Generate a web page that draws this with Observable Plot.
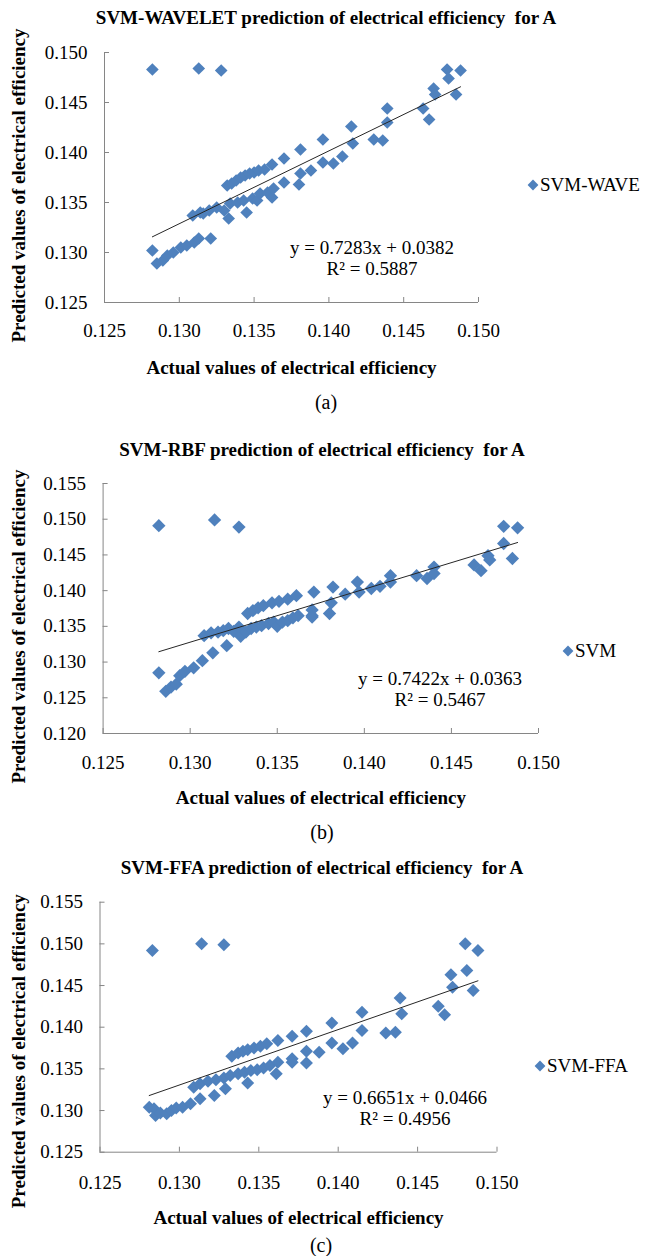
<!DOCTYPE html>
<html><head><meta charset="utf-8">
<script src="https://cdn.jsdelivr.net/npm/d3@7"></script>
<script src="https://cdn.jsdelivr.net/npm/@observablehq/plot@0.6"></script>
<style>
html,body{margin:0;padding:0;background:#fff;}
#root{position:relative;width:649px;height:1256px;overflow:hidden;background:#fff;font-family:"Liberation Serif","Times New Roman",serif;color:#000;}
.t{position:absolute;white-space:pre;font-size:19px;line-height:22px;transform:translate(-50%,-50%);}
.b{font-weight:bold;}
.leg{position:absolute;white-space:pre;font-size:19px;line-height:22px;transform:translateY(-50%);display:flex;align-items:center;}
</style></head><body><div id="root"></div>
<script>
// ---------- data ----------
const xTicks = [0.125, 0.130, 0.135, 0.140, 0.145, 0.150];
const yTicksA = [0.125, 0.130, 0.135, 0.140, 0.145, 0.150];
const yTicksB = [0.120, 0.125, 0.130, 0.135, 0.140, 0.145, 0.150, 0.155];
const yTicksC = [0.125, 0.130, 0.135, 0.140, 0.145, 0.150, 0.155];

const titles = [
  "SVM-WAVELET prediction of electrical efficiency  for A",
  "SVM-RBF prediction of electrical efficiency  for A",
  "SVM-FFA prediction of electrical efficiency  for A"
];
const seriesNames = ["SVM-WAVE", "SVM", "SVM-FFA"];
const captions = ["(a)", "(b)", "(c)"];
const xLabel = "Actual values of electrical efficiency";
const yLabel = "Predicted values of electrical efficiency";
const slopes = [0.7283, 0.7422, 0.6651];
const intercepts = [0.0382, 0.0363, 0.0466];
const rSquared = ["0.5887", "0.5467", "0.4956"];

const aActual = [0.1282,0.1313,0.1328,
  0.1282,0.1285,0.1289,0.1292,0.1296,0.1301,0.1305,0.1310,0.1313,0.1321,
  0.1309,0.1314,0.1316,0.1320,0.1325,0.1330,0.1333,0.1334,0.1339,0.1343,0.1345,0.1349,0.1352,0.1354,0.1359,0.1362,0.1363,0.1370,
  0.1332,0.1335,0.1338,0.1341,0.1344,0.1347,0.1350,0.1353,0.1357,0.1362,
  0.1370,0.1380,0.1381,0.1381,0.1388,0.1396,0.1396,0.1403,0.1409,0.1415,0.1416,0.1430,0.1436,0.1439,0.1439,0.1463,0.1467,0.1470,0.1471,0.1479,0.1480,0.1485,0.1488];
const aPredicted = [0.1483,0.1484,0.1482,
  0.1302,0.1289,0.1292,0.1297,0.1300,0.1305,0.1307,0.1310,0.1314,0.1314,
  0.1337,0.1340,0.1339,0.1342,0.1345,0.1342,0.1334,0.1349,0.1350,0.1352,0.1340,0.1354,0.1352,0.1359,0.1360,0.1355,0.1364,0.1370,
  0.1367,0.1369,0.1372,0.1375,0.1377,0.1379,0.1380,0.1382,0.1383,0.1388,
  0.1394,0.1368,0.1379,0.1403,0.1382,0.1413,0.1390,0.1389,0.1396,0.1426,0.1409,0.1413,0.1412,0.1444,0.1430,0.1444,0.1433,0.1464,0.1458,0.1483,0.1474,0.1458,0.1482];

const bActual = [0.1282,0.1314,0.1328,
  0.1282,0.1286,0.1289,0.1292,0.1294,0.1297,0.1302,0.1307,0.1313,0.1321,
  0.1308,0.1312,0.1316,0.1319,0.1322,0.1325,0.1328,0.1329,0.1332,0.1335,0.1338,0.1341,0.1345,0.1348,0.1350,0.1353,0.1356,0.1359,0.1362,0.1370,0.1370,0.1370,0.1380,0.1381,
  0.1333,0.1336,0.1339,0.1342,0.1347,0.1351,0.1356,0.1361,0.1371,0.1382,
  0.1389,0.1396,0.1397,0.1404,0.1409,0.1415,0.1415,0.1430,0.1436,0.1440,0.1440,0.1463,0.1467,0.1471,0.1472,0.1480,0.1480,0.1485,0.1488];
const bPredicted = [0.1491,0.1499,0.1489,
  0.1285,0.1259,0.1265,0.1269,0.1281,0.1287,0.1292,0.1302,0.1313,0.1323,
  0.1337,0.1341,0.1342,0.1344,0.1347,0.1343,0.1349,0.1336,0.1342,0.1347,0.1349,0.1351,0.1354,0.1356,0.1350,0.1356,0.1358,0.1362,0.1365,0.1365,0.1373,0.1363,0.1368,0.1383,
  0.1368,0.1372,0.1376,0.1379,0.1383,0.1385,0.1388,0.1393,0.1398,0.1405,
  0.1395,0.1412,0.1398,0.1403,0.1406,0.1421,0.1412,0.1421,0.1417,0.1433,0.1424,0.1436,0.1428,0.1449,0.1443,0.1490,0.1466,0.1445,0.1488];

const cActual = [0.1283,0.1314,0.1328,
  0.1281,0.1284,0.1285,0.1288,0.1292,0.1295,0.1298,0.1302,0.1307,0.1313,0.1322,0.1329,0.1343,
  0.1309,0.1313,0.1318,0.1323,0.1328,0.1332,0.1337,0.1341,0.1345,0.1349,0.1353,0.1357,0.1361,0.1362,
  0.1333,0.1337,0.1340,0.1343,0.1347,0.1351,0.1355,0.1362,
  0.1371,0.1371,0.1371,0.1380,0.1380,0.1380,0.1388,0.1396,0.1396,0.1403,0.1409,0.1415,0.1415,0.1430,0.1436,0.1439,0.1440,0.1463,0.1467,0.1471,0.1472,0.1480,0.1481,0.1485,0.1488];
const cPredicted = [0.1492,0.1500,0.1499,
  0.1304,0.1302,0.1294,0.1297,0.1296,0.1300,0.1303,0.1304,0.1308,0.1314,0.1318,0.1326,0.1333,
  0.1328,0.1332,0.1335,0.1337,0.1339,0.1342,0.1344,0.1346,0.1348,0.1349,0.1351,0.1354,0.1344,0.1358,
  0.1365,0.1369,0.1371,0.1373,0.1375,0.1377,0.1380,0.1384,
  0.1389,0.1362,0.1358,0.1395,0.1371,0.1357,0.1370,0.1405,0.1381,0.1374,0.1381,0.1418,0.1396,0.1393,0.1394,0.1435,0.1416,0.1425,0.1415,0.1463,0.1448,0.1500,0.1468,0.1444,0.1492];

// ---------- drawing ----------
const root = document.getElementById("root");
const blue = "#4F81BD";
const gray = "#868686";

function addText(txt, cx, cy, cls, size) {
  const d = document.createElement("div");
  d.className = "t " + (cls || "");
  d.textContent = txt;
  d.style.left = cx + "px";
  d.style.top = cy + "px";
  if (size) d.style.fontSize = size + "px";
  root.appendChild(d);
}
function addLegend(name, x, cy) {
  const d = document.createElement("div");
  d.className = "leg";
  d.style.left = (x - 6) + "px";
  d.style.top = cy + "px";
  d.innerHTML = `<svg width="12" height="12" style="margin-right:1px"><path d="M6 0.6L11.4 6L6 11.4L0.6 6Z" fill="${blue}"/></svg><span>${name}</span>`;
  root.appendChild(d);
}

const panels = [
  {i:0, actual:aActual, predicted:aPredicted, yTicks:yTicksA, top:36, h:350, ml:104, mr:171, mt:16, mb:84, xpad:21, xlab:65, ylabDy:8, r:5.7,
   title:[326,18], cap:[326,402], leg:[533,185], eq:[372,248]},
  {i:1, actual:bActual, predicted:bPredicted, yTicks:yTicksB, top:470, h:340, ml:102.6, mr:111, mt:13, mb:77, xpad:22, xlab:64, ylabDy:18, r:6,
   title:[322,450], cap:[322,832], leg:[568,651], eq:[440,679]},
  {i:2, actual:cActual, predicted:cPredicted, yTicks:yTicksC, top:888, h:344, ml:99.5, mr:152.5, mt:13.7, mb:80.3, xpad:23, xlab:66, ylabDy:24, r:5.85,
   title:[322,868], cap:[321,1245], leg:[540,1066], eq:[405,1098]}
];

for (const p of panels) {
  const data = p.actual.map((x, k) => ({x, y: p.predicted[k]}));
  const x0 = d3.min(p.actual), x1 = d3.max(p.actual);
  const trend = [x0, x1].map(x => ({x, y: slopes[p.i] * x + intercepts[p.i]}));
  const svg = Plot.plot({
    width: 649, height: p.h,
    marginLeft: p.ml, marginRight: p.mr, marginTop: p.mt, marginBottom: p.mb,
    style: {fontFamily: "'Liberation Serif', 'Times New Roman', serif", fontSize: "19px", color: "#000", background: "transparent", overflow: "visible"},
    x: {domain: [xTicks[0], xTicks[xTicks.length - 1]]},
    y: {domain: [p.yTicks[0], p.yTicks[p.yTicks.length - 1]]},
    marks: [
      Plot.ruleY([p.yTicks[0]], {stroke: gray, strokeWidth: 1}),
      Plot.ruleX([xTicks[0]], {stroke: gray, strokeWidth: 1}),
      Plot.axisX(xTicks, {tickSize: 5, dy: -5, fill: "none", stroke: gray, label: null}),
      Plot.axisY(p.yTicks, {tickSize: 5, dx: 5, fill: "none", stroke: gray, label: null}),
      Plot.axisX(xTicks, {tickSize: 0, tickPadding: p.xpad, tickFormat: d3.format(".3f"), label: null, fill: "#000", fontSize: 19}),
      Plot.axisY(p.yTicks, {tickSize: 0, tickPadding: 17, tickFormat: d3.format(".3f"), label: null, fill: "#000", fontSize: 19}),
      Plot.text([xLabel], {text: d => d, frameAnchor: "bottom", dy: p.xlab, textAnchor: "middle", lineAnchor: "middle", fontWeight: "bold", fontSize: 19, fill: "#000"}),
      Plot.text([yLabel], {text: d => d, frameAnchor: "left", dx: 18 - p.ml, dy: p.ylabDy, rotate: -90, textAnchor: "middle", lineAnchor: "middle", fontWeight: "bold", fontSize: 19, fill: "#000"}),
      Plot.dot(data, {x: "x", y: "y", symbol: "diamond2", r: p.r, fill: blue}),
      Plot.line(trend, {x: "x", y: "y", stroke: "#262626", strokeWidth: 1})
    ]
  });
  svg.style.position = "absolute";
  svg.style.left = "0px";
  svg.style.top = p.top + "px";
  root.appendChild(svg);

  addText(titles[p.i], p.title[0], p.title[1], "b");
  addText(captions[p.i], p.cap[0], p.cap[1], "", 20);
  addLegend(seriesNames[p.i], p.leg[0], p.leg[1]);
  addText(`y = ${slopes[p.i]}x + ${intercepts[p.i]}`, p.eq[0], p.eq[1]);
  addText(`R² = ${rSquared[p.i]}`, p.eq[0], p.eq[1] + 21);
}
</script></body></html>
